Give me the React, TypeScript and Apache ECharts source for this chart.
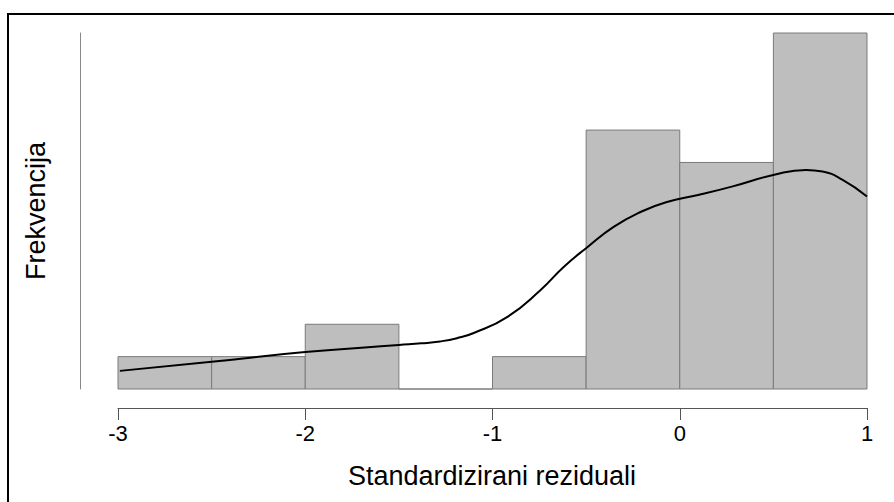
import React, { useEffect, useRef } from "react";
import * as echarts from "echarts";

// Histogram bins (standardized residuals) and counts
const binStarts = [-3, -2.5, -2, -1.5, -1, -0.5, 0, 0.5];
const binEnds = [-2.5, -2, -1.5, -1, -0.5, 0, 0.5, 1];
const counts = [1, 1, 2, 0, 1, 8, 7, 11];

// Density curve (scaled to frequency)
const densityX = [-2.99, -2.5, -2.0, -1.5, -1.38, -1.28, -1.19, -1.1, -0.92, -0.743, -0.62, -0.492, -0.353, -0.209, -0.073, 0.104, 0.283, 0.505, 0.674, 0.763, 0.87, 1.0];
const densityY = [0.56, 0.84, 1.14, 1.36, 1.41, 1.47, 1.57, 1.73, 2.23, 3.06, 3.77, 4.39, 5.01, 5.47, 5.77, 6.0, 6.26, 6.62, 6.77, 6.72, 6.46, 5.95];

const xTicks = [-3, -2, -1, 0, 1];
const xTitle = "Standardizirani reziduali";
const yTitle = "Frekvencija";

const FONT = "'Liberation Sans', Arial, sans-serif";

export default function App() {
  const ref = useRef<HTMLDivElement>(null);
  useEffect(() => {
    if (!ref.current) return;
    const chart = echarts.init(ref.current, null, { renderer: "svg" });
    const histData = binStarts.map((s, i) => [s, binEnds[i], counts[i]]);
    const curveData = densityX.map((x, i) => [x, densityY[i]]);
    chart.setOption({
      animation: false,
      backgroundColor: "#ffffff",
      grid: { left: 118, right: 27, top: 33, bottom: 113 },
      xAxis: {
        type: "value",
        min: xTicks[0],
        max: xTicks[xTicks.length - 1],
        interval: 1,
        offset: 19,
        splitLine: { show: false },
        axisLine: { show: true, onZero: false, lineStyle: { color: "#555555", width: 1 } },
        axisTick: { show: true, length: 12, lineStyle: { color: "#555555", width: 1 } },
        axisLabel: { color: "#000000", fontSize: 22, fontFamily: FONT, margin: 14 },
      },
      yAxis: {
        type: "value",
        min: 0,
        max: 11,
        offset: 38,
        splitLine: { show: false },
        axisLine: { show: true, onZero: false, lineStyle: { color: "#888888", width: 1 } },
        axisTick: { show: false },
        axisLabel: { show: false },
      },
      graphic: [
        {
          type: "rect",
          shape: { x: 8, y: 14, width: 1000, height: 1000 },
          style: { fill: "none", stroke: "#000000", lineWidth: 2 },
          silent: true,
        },
        {
          type: "text",
          x: 492,
          y: 476,
          style: {
            text: xTitle,
            fontSize: 27,
            fontFamily: FONT,
            fill: "#000000",
            align: "center",
            verticalAlign: "middle",
          },
        },
        {
          type: "text",
          x: 36,
          y: 211,
          rotation: Math.PI / 2,
          style: {
            text: yTitle,
            fontSize: 27,
            fontFamily: FONT,
            fill: "#000000",
            align: "center",
            verticalAlign: "middle",
          },
        },
      ],
      series: [
        {
          type: "custom",
          data: histData,
          encode: { x: [0, 1], y: 2 },
          renderItem: (params: any, api: any) => {
            const x0 = api.value(0);
            const x1 = api.value(1);
            const c = api.value(2);
            const p0 = api.coord([x0, c]);
            const p1 = api.coord([x1, 0]);
            return {
              type: "rect",
              shape: { x: p0[0], y: p0[1], width: p1[0] - p0[0], height: p1[1] - p0[1] },
              style: { fill: "#bebebe", stroke: "#7a7a7a", lineWidth: 1 },
            };
          },
          z: 1,
        },
        {
          type: "line",
          data: curveData,
          smooth: 0.5,
          showSymbol: false,
          symbol: "none",
          lineStyle: { color: "#000000", width: 2 },
          z: 3,
        },
      ],
    });
    return () => chart.dispose();
  }, []);
  return (
    <div
      ref={ref}
      style={{ position: "fixed", left: 0, top: 0, width: 894, height: 502 }}
    />
  );
}
